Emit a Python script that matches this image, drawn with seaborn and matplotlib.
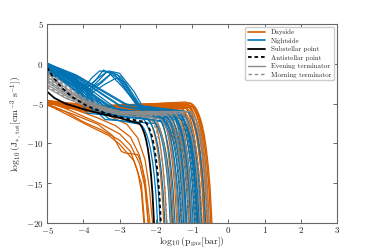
import matplotlib
matplotlib.use("Agg")
import matplotlib.pyplot as plt
from matplotlib.lines import Line2D
import numpy as np
import pandas as pd
import seaborn as sns

# ---------------- data ----------------
x_ticks = [-5, -4, -3, -2, -1, 0, 1, 2, 3]
x_tick_labels = ["$-5$", "$-4$", "$-3$", "$-2$", "$-1$", "$0$", "$1$", "$2$", "$3$"]
y_ticks = [-20, -15, -10, -5, 0, 5]
y_tick_labels = ["$-20$", "$-15$", "$-10$", "$-5$", "$0$", "$5$"]

# shape of the fall-off below the plateau (fraction of width / fraction of fall to -20)
drop_u = [0.0, 0.1, 0.2, 0.3, 0.4, 0.5, 0.6, 0.7, 0.8, 0.9, 1.0, 1.08]
drop_f = [0.0, 0.015, 0.04, 0.075, 0.12, 0.18, 0.26, 0.37, 0.51, 0.70, 1.0, 1.25]

# Dayside: plateau curves
day_start_x = [-5.0, -4.6, -4.2, -3.9, -5.0, -4.4, -3.7, -4.8, -4.1, -5.0,
               -3.8, -4.5, -4.0, -5.0, -4.3, -3.6, -4.7, -4.0, -5.0, -3.9,
               -4.4, -4.2, -3.8, -5.0, -4.6, -4.0, -3.7, -4.5, -4.1, -3.9]
day_start_y = [-4.6, -5.4, -5.8, -5.6, -4.7, -5.5, -6.0, -4.9, -5.9, -4.8,
               -5.7, -5.3, -6.1, -5.0, -5.6, -5.8, -5.1, -5.4, -4.9, -6.0,
               -5.5, -5.2, -5.9, -4.6, -5.3, -5.7, -5.5, -5.6, -5.9, -5.4]
day_mid_y = [-6.0, -5.6, -6.3, -5.4, -5.8, -6.1, -5.5, -5.9, -6.2, -5.3,
             -5.7, -6.0, -5.5, -5.8, -6.3, -5.2, -5.6, -5.9, -5.4, -6.1,
             -5.7, -5.3, -5.9, -5.5, -5.8, -5.2, -5.6, -5.4, -5.7, -5.3]
day_knee_x = [-2.3, -2.2, -2.1, -2.02, -1.95, -1.88, -1.82, -1.76, -1.7, -1.65,
              -1.6, -1.55, -1.5, -1.46, -1.42, -1.38, -1.34, -1.3, -1.26, -1.23,
              -1.2, -1.17, -1.14, -1.11, -1.08, -1.05, -1.03, -1.01, -0.99, -0.97]
day_knee_y = [-6.3, -5.9, -6.5, -5.6, -6.0, -5.7, -5.4, -6.2, -5.8, -5.1,
              -5.5, -6.1, -5.3, -5.7, -6.4, -4.9, -5.2, -5.8, -5.0, -6.0,
              -5.4, -4.8, -5.6, -5.1, -5.5, -4.9, -5.3, -5.0, -5.4, -5.2]
day_drop_w = [0.52, 0.50, 0.54, 0.51, 0.53, 0.50, 0.52, 0.54, 0.51, 0.50,
              0.53, 0.52, 0.50, 0.54, 0.51, 0.52, 0.53, 0.50, 0.52, 0.51,
              0.54, 0.50, 0.52, 0.53, 0.51, 0.52, 0.50, 0.53, 0.51, 0.52]
# Dayside: curves that fall off early and gradually
day_early_curves = [
    [(-5, -5.0), (-4.5, -6.0), (-4.0, -7.3), (-3.5, -8.3), (-3.0, -9.6), (-2.7, -11.0), (-2.5, -13.5), (-2.4, -16.0), (-2.32, -20.5)],
    [(-5, -4.8), (-4.5, -5.6), (-4.0, -6.6), (-3.5, -7.6), (-3.0, -8.8), (-2.7, -10.2), (-2.45, -12.5), (-2.3, -15.5), (-2.2, -20.5)],
    [(-5, -5.2), (-4.3, -6.3), (-3.6, -7.6), (-3.2, -9.0), (-2.95, -11.0), (-2.85, -11.2), (-2.5, -11.4), (-2.4, -12.5), (-2.3, -15.0), (-2.2, -20.5)],
    [(-5, -4.9), (-4.2, -5.8), (-3.6, -6.8), (-3.1, -7.8), (-2.7, -9.2), (-2.45, -11.5), (-2.3, -14.5), (-2.15, -20.5)],
    [(-5, -4.7), (-4.0, -5.6), (-3.3, -6.5), (-2.8, -7.6), (-2.5, -9.3), (-2.3, -12.0), (-2.18, -15.5), (-2.08, -20.5)],
    [(-5, -5.1), (-4.4, -6.5), (-3.8, -7.9), (-3.3, -9.0), (-3.0, -10.1), (-2.6, -12.2), (-2.4, -15.0), (-2.3, -20.5)],
]

# Nightside: monotonic curves
night_start_y = [0.1, -0.2, -0.5, -0.8, -1.1, 0.0, -0.3, -0.6, -0.9, -0.1,
                 -0.4, -0.7, -1.0, -0.2, -0.5, 0.05, -0.35, -0.65, -0.15, -0.45, -0.8, -0.3]
night_mid_y = [-1.8, -2.3, -2.2, -2.9, -3.0, -1.6, -2.0, -2.8, -2.7, -1.5,
               -2.6, -2.4, -3.3, -1.7, -2.5, -1.4, -2.2, -3.1, -1.9, -2.4, -3.4, -3.6]
night_elbow_x = [-3.6, -3.4, -3.8, -3.2, -3.5, -3.0, -3.3, -3.7, -3.1, -2.9,
                 -3.4, -3.6, -3.2, -3.0, -3.5, -2.8, -3.3, -3.9, -3.1, -3.2, -3.3, -3.4]
night_elbow_y = [-5.4, -5.8, -5.6, -6.0, -6.2, -5.2, -5.5, -6.1, -5.9, -5.0,
                 -6.3, -5.7, -6.4, -5.3, -6.0, -5.1, -5.8, -6.2, -5.6, -5.5, -6.9, -7.0]
night_knee_x = [-2.38, -2.08, -1.98, -1.83, -1.68, -1.58, -1.53, -1.46, -1.4, -1.35,
                -1.3, -1.26, -1.78, -1.63, -1.5, -1.43, -1.33, -2.23, -1.88, -1.73, -2.43, -2.03]
night_knee_y = [-6.8, -7.1, -6.5, -7.3, -6.9, -6.2, -6.6, -7.0, -6.4, -6.1,
                -6.8, -6.3, -7.2, -6.5, -6.7, -6.0, -6.4, -7.0, -6.6, -6.9, -7.6, -7.5]
night_drop_w = [0.50, 0.48, 0.51, 0.49, 0.52, 0.48, 0.50, 0.49, 0.51, 0.48,
                0.50, 0.52, 0.49, 0.48, 0.51, 0.50, 0.49, 0.48, 0.51, 0.50, 0.48, 0.49]
# Nightside: curves with a bump
night_hump_curves = [
    [(-5, 0.0), (-4.4, -1.5), (-3.9, -3.0), (-3.65, -2.0), (-3.45, -0.8), (-3.15, -1.3), (-2.8, -3.4), (-2.45, -5.4), (-1.38, -6.4)],
    [(-5, -0.2), (-4.4, -1.8), (-3.85, -3.3), (-3.6, -2.2), (-3.35, -1.0), (-3.05, -1.4), (-2.7, -3.7), (-2.4, -5.6), (-1.23, -6.6)],
    [(-5, 0.05), (-4.3, -1.7), (-3.85, -2.9), (-3.6, -1.8), (-3.3, -0.9), (-3.0, -1.2), (-2.6, -3.5), (-2.35, -5.5), (-1.53, -6.2)],
    [(-5, -0.3), (-4.3, -2.0), (-3.8, -3.4), (-3.5, -2.4), (-3.2, -1.1), (-2.95, -1.7), (-2.65, -4.0), (-2.4, -5.8), (-1.68, -6.8)],
    [(-5, -0.1), (-4.35, -1.8), (-3.95, -2.8), (-3.75, -1.7), (-3.55, -0.9), (-3.3, -1.1), (-2.9, -3.0), (-2.5, -5.2), (-1.13, -6.0)],
    [(-5, -0.4), (-4.2, -2.2), (-3.75, -3.6), (-3.45, -2.7), (-3.1, -1.8), (-2.85, -2.3), (-2.55, -4.4), (-2.35, -5.9), (-1.33, -6.9)],
    [(-5, -0.15), (-4.3, -1.9), (-3.85, -3.2), (-3.55, -2.4), (-3.25, -1.3), (-3.0, -1.9), (-2.7, -4.1), (-2.45, -5.7), (-1.78, -7.0)],
]
night_hump_w = [0.50, 0.48, 0.51, 0.49, 0.50, 0.48, 0.51]

# Terminators
evening_curves = [
    [(-5, -1.2), (-4.5, -3.0), (-4.0, -4.5), (-3.5, -5.4), (-3.0, -6.0), (-2.08, -6.7)],
    [(-5, -2.0), (-4.5, -3.6), (-4.0, -4.8), (-3.5, -5.6), (-3.0, -6.1), (-1.68, -6.5)],
    [(-5, -2.6), (-4.5, -4.0), (-4.0, -5.0), (-3.5, -5.7), (-3.0, -6.2), (-1.28, -6.3)],
    [(-5, -1.6), (-4.5, -3.3), (-4.0, -4.6), (-3.5, -5.5), (-3.0, -6.0), (-1.03, -6.0)],
    [(-5, -3.0), (-4.5, -4.3), (-4.0, -5.2), (-3.5, -5.9), (-3.0, -6.4), (-1.88, -6.9)],
    [(-5, -2.3), (-4.5, -3.8), (-4.0, -4.9), (-3.5, -5.6), (-3.0, -6.0), (-1.48, -6.2)],
]
evening_w = [0.50, 0.48, 0.51, 0.49, 0.50, 0.48]
morning_curves = [
    [(-5, -0.8), (-4.5, -2.6), (-4.0, -4.2), (-3.5, -5.3), (-3.0, -6.0), (-2.18, -6.8)],
    [(-5, -1.4), (-4.5, -3.1), (-4.0, -4.6), (-3.5, -5.5), (-3.0, -6.2), (-1.78, -6.6)],
    [(-5, -2.2), (-4.5, -3.7), (-4.0, -4.9), (-3.5, -5.7), (-3.0, -6.3), (-1.38, -6.4)],
    [(-5, -1.8), (-4.5, -3.4), (-4.0, -4.7), (-3.5, -5.6), (-3.0, -6.1), (-1.08, -6.1)],
    [(-5, -2.8), (-4.5, -4.2), (-4.0, -5.1), (-3.5, -5.8), (-3.0, -6.3), (-1.58, -6.5)],
    [(-5, -1.0), (-4.5, -2.8), (-4.0, -4.3), (-3.5, -5.4), (-3.0, -6.0), (-1.23, -6.2)],
]
morning_w = [0.49, 0.51, 0.48, 0.50, 0.49, 0.51]

substellar_curve = [(-5, -3.5), (-4.8, -4.3), (-4.5, -5.0), (-4.0, -5.7), (-3.5, -6.3),
                    (-3.0, -6.8), (-2.7, -7.2), (-2.47, -7.45)]
substellar_w = 0.42
antistellar_curve = [(-5, -0.5), (-4.8, -1.9), (-4.6, -3.0), (-4.3, -4.2), (-3.9, -5.3),
                     (-3.4, -6.2), (-2.8, -6.9), (-2.3, -7.3)]
antistellar_w = 0.44

legend_labels = ["Dayside", "Nightside", "Substellar point", "Antistellar point",
                 "Evening terminator", "Morning terminator"]

# ---------------- assemble ----------------
def with_drop(knots, width):
    xs = [p[0] for p in knots]
    ys = [p[1] for p in knots]
    if width is None:
        return xs, ys
    kx, ky = xs[-1], ys[-1]
    for u, f in zip(drop_u[1:], drop_f[1:]):
        xs.append(kx + u * width)
        ys.append(ky + f * (-20 - ky))
    return xs, ys

def frame(curves, widths, name):
    rows = []
    for i, (knots, w) in enumerate(zip(curves, widths)):
        xs, ys = with_drop(knots, w)
        for x, y in zip(xs, ys):
            rows.append((f"{name}{i}", x, y))
    return pd.DataFrame(rows, columns=["curve", "x", "y"])

day_plateau = [[(sx, a), (max(-3.3, sx + 0.5), b), (kx, ky)] for sx, a, b, kx, ky in
               zip(day_start_x, day_start_y, day_mid_y, day_knee_x, day_knee_y, strict=True)]
day_df = pd.concat([frame(day_plateau, day_drop_w, "dp"),
                    frame(day_early_curves, [None] * len(day_early_curves), "de")])

night_mono = [[(-5, a), (-4.2, b), (ex, ey), (kx, ky)] for a, b, ex, ey, kx, ky in
              zip(night_start_y, night_mid_y, night_elbow_x, night_elbow_y,
                  night_knee_x, night_knee_y, strict=True)]
night_df = pd.concat([frame(night_mono, night_drop_w, "nm"),
                      frame(night_hump_curves, night_hump_w, "nh")])
eve_df = frame(evening_curves, evening_w, "ev")
mor_df = frame(morning_curves, morning_w, "mo")
sub_df = frame([substellar_curve], [substellar_w], "ss")
anti_df = frame([antistellar_curve], [antistellar_w], "as")

# ---------------- plot ----------------
sns.set_style("ticks")
plt.rcParams["font.family"] = ["cmr10", "DejaVu Serif"]
plt.rcParams["mathtext.fontset"] = "cm"
plt.rcParams["axes.unicode_minus"] = False

c_day = "#d55e00"
c_night = "#0173b2"
c_grey = "#8c8c8c"

fig = plt.figure(figsize=(3.74, 2.49), dpi=100)
ax = fig.add_axes([0.126, 0.104, 0.775, 0.800])

common = dict(x="x", y="y", units="curve", estimator=None, sort=False, legend=False, ax=ax)
sns.lineplot(data=day_df, color=c_day, lw=0.9, **common)
sns.lineplot(data=night_df, color=c_night, lw=0.9, **common)
sns.lineplot(data=eve_df, color=c_grey, lw=0.9, **common)
sns.lineplot(data=mor_df, color=c_grey, lw=0.9, **common)
for ln in ax.lines[-len(morning_curves):]:
    ln.set_dashes([2.5, 2.0])
sns.lineplot(data=sub_df, color="black", lw=1.3, **common)
sns.lineplot(data=anti_df, color="black", lw=1.3, **common)
ax.lines[-1].set_dashes([2.0, 1.6])

ax.set_xlim(-5, 3)
ax.set_ylim(-20, 5)
ax.set_xticks(x_ticks, x_tick_labels)
ax.set_yticks(y_ticks, y_tick_labels)
ax.tick_params(direction="in", top=True, right=True, length=3, width=0.7,
               color="0.4", labelsize=6.5, pad=1.5)
ax.tick_params(axis="y", pad=2.5)
for s in ax.spines.values():
    s.set_color("0.4")
    s.set_linewidth(0.8)
ax.set_xlabel(r"$\log_{10}(\mathrm{p}_{\mathrm{gas}}[\mathrm{bar}])$", fontsize=7, labelpad=0)
ax.set_ylabel(r"$\log_{10}(\mathrm{J}_{*,\,\mathrm{tot}}[\mathrm{cm}^{-3}\ \mathrm{s}^{-1}])$",
              fontsize=7, labelpad=1)

handles = [
    Line2D([], [], color=c_day, lw=1.2),
    Line2D([], [], color=c_night, lw=1.2),
    Line2D([], [], color="black", lw=1.3),
    Line2D([], [], color="black", lw=1.3, dashes=[2.0, 1.6]),
    Line2D([], [], color=c_grey, lw=1.0),
    Line2D([], [], color=c_grey, lw=1.0, dashes=[2.5, 2.0]),
]
ax.legend(handles, legend_labels, loc="upper right", fontsize=5, frameon=True,
          edgecolor="0.8", fancybox=True, framealpha=1.0, handlelength=2.4,
          labelspacing=0.35, borderaxespad=0.4, borderpad=0.4, handletextpad=0.9)

fig.savefig("out.png", dpi=100)
